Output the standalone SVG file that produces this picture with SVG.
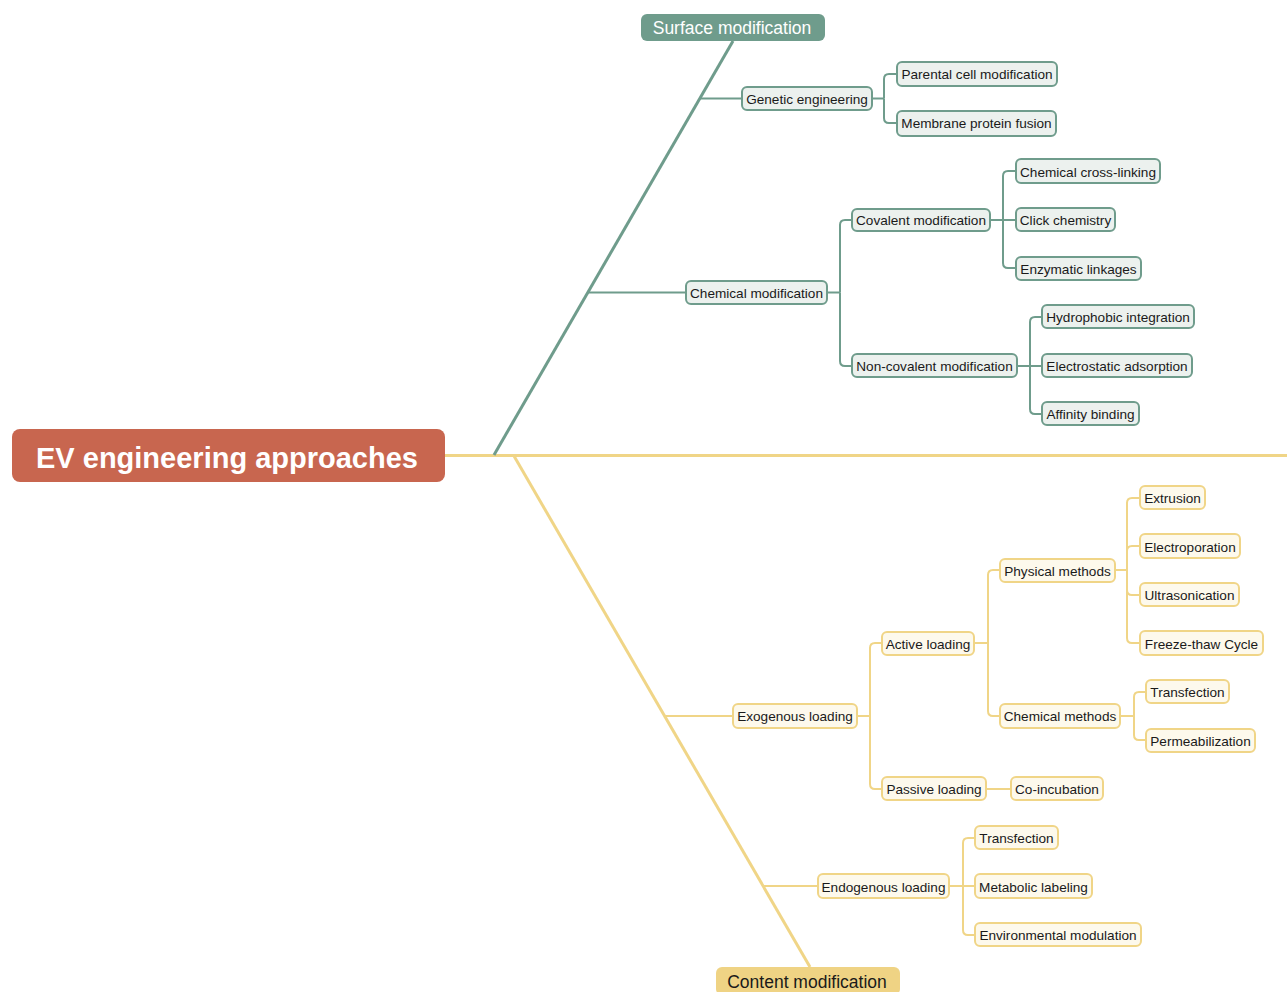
<svg xmlns="http://www.w3.org/2000/svg" width="1287" height="992" viewBox="0 0 1287 992">
<style>
text{font-family:"Liberation Sans",Arial,sans-serif;text-anchor:middle}
.n text{font-size:13.6px;fill:#1a1a1a}
.g rect{fill:#ECF1EE;stroke:#6F9C8C;stroke-width:2}
.y rect{fill:#FDF9EC;stroke:#F0D587;stroke-width:2}
.cg{fill:none;stroke:#6F9C8C;stroke-width:2}
.cy{fill:none;stroke:#F0D587;stroke-width:2}
</style>
<rect width="1287" height="992" fill="#fff"/>
<g id="connectors">
<path d="M445 455.5H1287" fill="none" stroke="#F0D587" stroke-width="3"/>
<path d="M494 455L733 41" fill="none" stroke="#6F9C8C" stroke-width="3"/>
<path d="M514 456L810 967" fill="none" stroke="#F0D587" stroke-width="3"/>
<g class="cg">
<path d="M700 98.5H742"/>
<path d="M588 292.5H686"/>
<path d="M872 98.5H884"/>
<path d="M884 98.5V79Q884 74 889 74H897"/>
<path d="M884 98.5V118Q884 123 889 123H897"/>
<path d="M827 292.5H840"/>
<path d="M840 292.5V225Q840 220 845 220H852"/>
<path d="M840 292.5V361Q840 366 845 366H852"/>
<path d="M990 220H1016"/>
<path d="M1003 220V176Q1003 171 1008 171H1016"/>
<path d="M1003 220V263Q1003 268 1008 268H1016"/>
<path d="M1017 366H1042"/>
<path d="M1030 366V322Q1030 317 1035 317H1042"/>
<path d="M1030 366V409Q1030 414 1035 414H1042"/>
</g>
<g class="cy">
<path d="M665 716H733"/>
<path d="M763 886H818"/>
<path d="M857 716H870"/>
<path d="M870 716V648Q870 643 875 643H882"/>
<path d="M870 716V784Q870 789 875 789H882"/>
<path d="M974 643H988"/>
<path d="M988 643V575Q988 570 993 570H1000"/>
<path d="M988 643V711Q988 716 993 716H1000"/>
<path d="M986 789H1011"/>
<path d="M1115 570H1127"/>
<path d="M1127 570V503Q1127 498 1132 498H1140"/>
<path d="M1127 570V551Q1127 546 1132 546H1140"/>
<path d="M1127 570V590Q1127 595 1132 595H1140"/>
<path d="M1127 570V638Q1127 643 1132 643H1140"/>
<path d="M1120 716H1134"/>
<path d="M1134 716V697Q1134 692 1139 692H1146"/>
<path d="M1134 716V735Q1134 740 1139 740H1146"/>
<path d="M949 886H975"/>
<path d="M963 886V843Q963 838 968 838H975"/>
<path d="M963 886V930Q963 935 968 935H975"/>
</g>
</g>
<g id="root"><rect x="12" y="429" width="433" height="53" rx="8" fill="#C8664F"/><text x="227" y="467.5" font-size="29" font-weight="bold" fill="#fff">EV engineering approaches</text></g>
<g id="surface"><rect x="641" y="14" width="184" height="27" rx="6" fill="#6F9C8C"/><text x="732" y="34" font-size="17.5" fill="#fff">Surface modification</text></g>
<g id="content"><rect x="716" y="967" width="184" height="28" rx="6" fill="#EFD384"/><text x="807" y="988" font-size="17.5" fill="#1a1a1a">Content modification</text></g>
<g class="n g">
<g id="genetic"><rect x="742" y="87" width="130" height="23" rx="5"/><text x="807" y="103.5">Genetic engineering</text></g>
<g id="parental"><rect x="897" y="62" width="160" height="24" rx="5"/><text x="977" y="79">Parental cell modification</text></g>
<g id="membrane"><rect x="897" y="111" width="159" height="25" rx="5"/><text x="976.5" y="128">Membrane protein fusion</text></g>
<g id="chemical"><rect x="686" y="281" width="141" height="23" rx="5"/><text x="756.5" y="297.5">Chemical modification</text></g>
<g id="covalent"><rect x="852" y="209" width="138" height="22" rx="5"/><text x="921" y="225">Covalent modification</text></g>
<g id="noncovalent"><rect x="852" y="354" width="165" height="23" rx="5"/><text x="934.5" y="371">Non-covalent modification</text></g>
<g id="crosslink"><rect x="1016" y="159" width="144" height="24" rx="5"/><text x="1088" y="176.5">Chemical cross-linking</text></g>
<g id="click"><rect x="1016" y="208" width="99" height="23" rx="5"/><text x="1065.5" y="225">Click chemistry</text></g>
<g id="enzymatic"><rect x="1016" y="257" width="125" height="23" rx="5"/><text x="1078.5" y="273.5">Enzymatic linkages</text></g>
<g id="hydrophobic"><rect x="1042" y="305" width="152" height="23" rx="5"/><text x="1118" y="322">Hydrophobic integration</text></g>
<g id="electrostatic"><rect x="1042" y="354" width="150" height="23" rx="5"/><text x="1117" y="371">Electrostatic adsorption</text></g>
<g id="affinity"><rect x="1042" y="402" width="97" height="23" rx="5"/><text x="1090.5" y="419">Affinity binding</text></g>
</g>
<g class="n y">
<g id="exogenous"><rect x="733" y="704" width="124" height="24" rx="5"/><text x="795" y="721">Exogenous loading</text></g>
<g id="active"><rect x="882" y="632" width="92" height="23" rx="5"/><text x="928" y="648.5">Active loading</text></g>
<g id="passive"><rect x="882" y="777" width="104" height="23" rx="5"/><text x="934" y="794">Passive loading</text></g>
<g id="coincubation"><rect x="1011" y="777" width="92" height="23" rx="5"/><text x="1057" y="794">Co-incubation</text></g>
<g id="physical"><rect x="1000" y="559" width="115" height="23" rx="5"/><text x="1057.5" y="575.5">Physical methods</text></g>
<g id="chemmethods"><rect x="1000" y="704" width="120" height="24" rx="5"/><text x="1060" y="721">Chemical methods</text></g>
<g id="extrusion"><rect x="1140" y="486" width="65" height="23" rx="5"/><text x="1172.5" y="503">Extrusion</text></g>
<g id="electroporation"><rect x="1140" y="534" width="100" height="24" rx="5"/><text x="1190" y="551.5">Electroporation</text></g>
<g id="ultrasonication"><rect x="1140" y="583" width="99" height="23" rx="5"/><text x="1189.5" y="600">Ultrasonication</text></g>
<g id="freezethaw"><rect x="1140" y="631" width="123" height="24" rx="5"/><text x="1201.5" y="648.5">Freeze-thaw Cycle</text></g>
<g id="transfection1"><rect x="1146" y="680" width="83" height="23" rx="5"/><text x="1187.5" y="697">Transfection</text></g>
<g id="permeabilization"><rect x="1146" y="729" width="109" height="23" rx="5"/><text x="1200.5" y="746">Permeabilization</text></g>
<g id="endogenous"><rect x="818" y="874" width="131" height="24" rx="5"/><text x="883.5" y="891.5">Endogenous loading</text></g>
<g id="transfection2"><rect x="975" y="826" width="83" height="23" rx="5"/><text x="1016.5" y="843">Transfection</text></g>
<g id="metabolic"><rect x="975" y="874" width="117" height="24" rx="5"/><text x="1033.5" y="891.5">Metabolic labeling</text></g>
<g id="environmental"><rect x="975" y="923" width="166" height="23" rx="5"/><text x="1058" y="940">Environmental modulation</text></g>
</g>
</svg>
